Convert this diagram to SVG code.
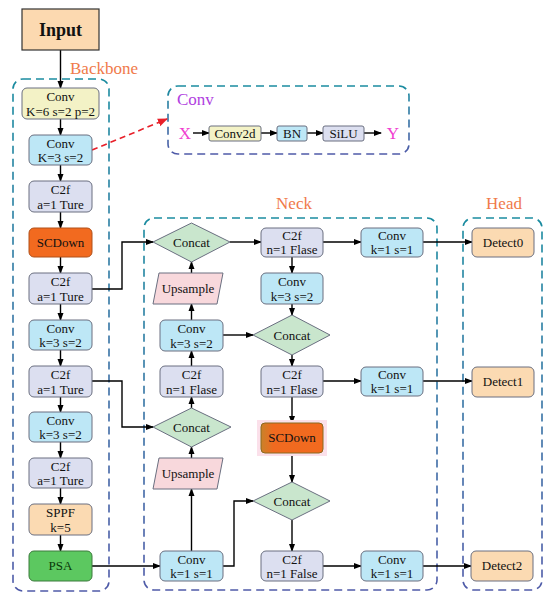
<svg xmlns="http://www.w3.org/2000/svg" width="550" height="598" viewBox="0 0 550 598" font-family="'Liberation Serif', 'DejaVu Serif', serif">
<defs>
<linearGradient id="dash" x1="0" y1="0" x2="0" y2="1">
<stop offset="0" stop-color="#1a8ca0"/><stop offset="1" stop-color="#4f5aa8"/>
</linearGradient>
<linearGradient id="scd" x1="0" y1="0" x2="1" y2="0">
<stop offset="0" stop-color="#c8822a"/><stop offset="0.2" stop-color="#f06a20"/><stop offset="1" stop-color="#f26a1f"/>
</linearGradient>
<marker id="ah" markerWidth="8" markerHeight="8" refX="7" refY="4" orient="auto" markerUnits="userSpaceOnUse">
<path d="M0,1 L8,4 L0,7 Z" fill="#000"/>
</marker>
<marker id="ahr" markerWidth="10" markerHeight="10" refX="9" refY="5" orient="auto" markerUnits="userSpaceOnUse">
<path d="M0,1 L10,5 L0,9 Z" fill="#e8202a"/>
</marker>
</defs>
<style>
text{font-family:'Liberation Serif','DejaVu Serif',serif;font-size:13px;text-anchor:middle;fill:#111}
.grp{fill:none;stroke:url(#dash);stroke-width:1.6;stroke-dasharray:8 5}
.lbl{font-size:17px;fill:#f07a4a}
.b{stroke:#6a6f80;stroke-width:1}
.conv{fill:#bde7f6}
.c2f{fill:#dcdff0}
.yel{fill:#f3f2c6}
.peach{fill:#fbdab2}
.cat{fill:#c9e6cd}
.up{fill:#f8d8dc}
.psa{fill:#5cc860;stroke:#3c7a3c}
.ln{fill:none;stroke:#000;stroke-width:1.4}
.arr{marker-end:url(#ah)}
</style>

<!-- group boxes -->
<rect class="grp" x="13" y="79" width="96" height="512" rx="10"/>
<rect class="grp" x="144" y="218" width="293" height="372" rx="10"/>
<rect class="grp" x="463" y="218" width="79" height="372" rx="10"/>
<rect class="grp" x="168" y="86" width="241" height="68" rx="10"/>
<text class="lbl" x="104" y="74">Backbone</text>
<text class="lbl" x="294" y="209">Neck</text>
<text class="lbl" x="504" y="209">Head</text>

<g id="connectors">
<line class="ln arr" x1="60.5" y1="50" x2="60.5" y2="88"/>
<line class="ln arr" x1="60.5" y1="119" x2="60.5" y2="135"/>
<line class="ln arr" x1="60.5" y1="165" x2="60.5" y2="181"/>
<line class="ln arr" x1="60.5" y1="212" x2="60.5" y2="228"/>
<line class="ln arr" x1="60.5" y1="257" x2="60.5" y2="273"/>
<line class="ln arr" x1="60.5" y1="304" x2="60.5" y2="320"/>
<line class="ln arr" x1="60.5" y1="350" x2="60.5" y2="366"/>
<line class="ln arr" x1="60.5" y1="397" x2="60.5" y2="412"/>
<line class="ln arr" x1="60.5" y1="442" x2="60.5" y2="458"/>
<line class="ln arr" x1="60.5" y1="488" x2="60.5" y2="504"/>
<line class="ln arr" x1="60.5" y1="535" x2="60.5" y2="551"/>
<line x1="92" y1="150" x2="167" y2="119" stroke="#e8202a" stroke-width="1.6" stroke-dasharray="6 4" marker-end="url(#ahr)"/>
<line class="ln arr" x1="193" y1="133" x2="209" y2="133"/>
<line class="ln arr" x1="261" y1="133" x2="277" y2="133"/>
<line class="ln arr" x1="307" y1="133" x2="323" y2="133"/>
<line class="ln arr" x1="364" y1="133" x2="381" y2="133"/>
<polyline class="ln arr" points="92,289 122,289 122,242 153,242"/>
<polyline class="ln arr" points="92,381 122,381 122,427 153,427"/>
<line class="ln arr" x1="92" y1="566" x2="160" y2="566"/>
<line class="ln arr" x1="191.5" y1="551" x2="191.5" y2="489"/>
<line class="ln arr" x1="191.5" y1="458" x2="191.5" y2="447"/>
<line class="ln arr" x1="191.5" y1="408" x2="191.5" y2="397"/>
<line class="ln arr" x1="191.5" y1="366" x2="191.5" y2="351"/>
<line class="ln arr" x1="191.5" y1="320" x2="191.5" y2="304"/>
<line class="ln arr" x1="191.5" y1="273" x2="191.5" y2="262"/>
<line class="ln arr" x1="230" y1="242" x2="261" y2="242"/>
<line class="ln arr" x1="223" y1="335" x2="253" y2="335"/>
<line class="ln arr" x1="292" y1="257" x2="292" y2="273"/>
<line class="ln arr" x1="292" y1="304" x2="292" y2="315"/>
<line class="ln arr" x1="292" y1="355" x2="292" y2="366"/>
<line class="ln arr" x1="292" y1="397" x2="292" y2="423"/>
<line class="ln arr" x1="292" y1="453" x2="292" y2="482"/>
<line class="ln arr" x1="292" y1="520" x2="292" y2="551"/>
<polyline class="ln arr" points="223,566 234,566 234,501 253,501"/>
<line class="ln arr" x1="323" y1="242" x2="361" y2="242"/>
<line class="ln arr" x1="323" y1="381" x2="361" y2="381"/>
<line class="ln arr" x1="323" y1="566" x2="361" y2="566"/>
<line class="ln arr" x1="423" y1="242" x2="472" y2="242"/>
<line class="ln arr" x1="423" y1="381" x2="472" y2="381"/>
<line class="ln arr" x1="423" y1="566" x2="471" y2="566"/>
</g>

<g id="input"><rect x="22" y="9" width="77" height="41" fill="#fcd9b0" stroke="#333" stroke-width="1.2"/><text x="60.5" y="36" style="font-size:18px;font-weight:bold">Input</text></g>

<g id="bb_conv1"><rect class="b yel" x="22" y="88" width="77" height="31" rx="5"/><text x="60.5" y="101">Conv</text><text x="60.5" y="116">K=6 s=2 p=2</text></g>
<g id="bb_conv2"><rect class="b conv" x="29" y="135" width="63" height="30" rx="5"/><text x="60.5" y="148">Conv</text><text x="60.5" y="162">K=3 s=2</text></g>
<g id="bb_c2f1"><rect class="b c2f" x="29" y="181" width="63" height="31" rx="5"/><text x="60.5" y="194">C2f</text><text x="60.5" y="209">a=1 Ture</text></g>
<g id="bb_scdown"><rect x="29" y="228" width="63" height="29" rx="5" fill="#f26a1f" stroke="#b0501a"/><text x="60.5" y="247">SCDown</text></g>
<g id="bb_c2f2"><rect class="b c2f" x="29" y="273" width="63" height="31" rx="5"/><text x="60.5" y="286">C2f</text><text x="60.5" y="301">a=1 Ture</text></g>
<g id="bb_conv3"><rect class="b conv" x="29" y="320" width="63" height="30" rx="5"/><text x="60.5" y="333">Conv</text><text x="60.5" y="347">k=3 s=2</text></g>
<g id="bb_c2f3"><rect class="b c2f" x="29" y="366" width="63" height="31" rx="5"/><text x="60.5" y="379">C2f</text><text x="60.5" y="394">a=1 Ture</text></g>
<g id="bb_conv4"><rect class="b conv" x="29" y="412" width="63" height="30" rx="5"/><text x="60.5" y="425">Conv</text><text x="60.5" y="439">k=3 s=2</text></g>
<g id="bb_c2f4"><rect class="b c2f" x="29" y="458" width="63" height="30" rx="5"/><text x="60.5" y="471">C2f</text><text x="60.5" y="485">a=1 Ture</text></g>
<g id="bb_sppf"><rect class="b peach" x="29" y="504" width="63" height="31" rx="5"/><text x="60.5" y="517">SPPF</text><text x="60.5" y="532">k=5</text></g>
<g id="bb_psa"><rect class="psa" x="29" y="551" width="63" height="30" rx="5"/><text x="60.5" y="570" style="fill:#0a3a0a">PSA</text></g>

<g id="conv_detail">
<text x="177" y="105" style="font-size:17px;fill:#b040e0;text-anchor:start">Conv</text>
<text x="185" y="139" style="font-size:17px;fill:#f040d0">X</text>
<rect class="b yel" x="209" y="126" width="52" height="15" rx="2"/><text x="235" y="138">Conv2d</text>
<rect class="b conv" x="277" y="126" width="30" height="15" rx="2"/><text x="292" y="138">BN</text>
<rect class="b c2f" x="323" y="126" width="41" height="15" rx="2"/><text x="343.5" y="138">SiLU</text>
<text x="393" y="139" style="font-size:17px;fill:#f040d0">Y</text>
</g>

<g id="n_concat1"><polygon class="b cat" points="153,242 191.5,223 230,242 191.5,262"/><text x="191.5" y="247">Concat</text></g>
<g id="n_up1"><polygon class="b up" points="159,273 223,273 217,304 153,304"/><text x="188" y="293">Upsample</text></g>
<g id="n_conv_l"><rect class="b conv" x="160" y="320" width="63" height="31" rx="5"/><text x="191.5" y="333">Conv</text><text x="191.5" y="348">k=3 s=2</text></g>
<g id="n_c2f_l"><rect class="b c2f" x="160" y="366" width="63" height="31" rx="5"/><text x="191.5" y="379">C2f</text><text x="191.5" y="394">n=1 Flase</text></g>
<g id="n_concat2"><polygon class="b cat" points="153,427 191.5,408 231,427 191.5,447"/><text x="191.5" y="432">Concat</text></g>
<g id="n_up2"><polygon class="b up" points="159,458 223,458 217,489 153,489"/><text x="188" y="478">Upsample</text></g>
<g id="n_conv_b"><rect class="b conv" x="160" y="551" width="63" height="30" rx="5"/><text x="191.5" y="564">Conv</text><text x="191.5" y="578">k=1 s=1</text></g>

<g id="n_c2f_r1"><rect class="b c2f" x="261" y="228" width="62" height="29" rx="5"/><text x="292" y="240">C2f</text><text x="292" y="254">n=1 Flase</text></g>
<g id="n_conv_r"><rect class="b conv" x="261" y="273" width="62" height="31" rx="5"/><text x="292" y="286">Conv</text><text x="292" y="301">k=3 s=2</text></g>
<g id="n_concat3"><polygon class="b cat" points="253,335 292,315 330,335 292,355"/><text x="292" y="340">Concat</text></g>
<g id="n_c2f_r2"><rect class="b c2f" x="261" y="366" width="62" height="31" rx="5"/><text x="292" y="379">C2f</text><text x="292" y="394">n=1 Flase</text></g>
<g id="n_scdown"><rect x="257" y="420" width="70" height="36" fill="#fbe0ea"/><rect x="261" y="423" width="62" height="30" rx="4" fill="url(#scd)" stroke="#8a6a20"/><text x="292" y="442">SCDown</text></g>
<g id="n_concat4"><polygon class="b cat" points="253,501 292,482 330,501 292,520"/><text x="292" y="506">Concat</text></g>
<g id="n_c2f_r3"><rect class="b c2f" x="261" y="551" width="62" height="30" rx="5"/><text x="292" y="564">C2f</text><text x="292" y="578">n=1 False</text></g>

<g id="n_conv_o1"><rect class="b conv" x="361" y="228" width="62" height="29" rx="5"/><text x="392" y="240">Conv</text><text x="392" y="254">k=1 s=1</text></g>
<g id="n_conv_o2"><rect class="b conv" x="361" y="367" width="62" height="29" rx="5"/><text x="392" y="379">Conv</text><text x="392" y="393">k=1 s=1</text></g>
<g id="n_conv_o3"><rect class="b conv" x="361" y="551" width="62" height="30" rx="5"/><text x="392" y="564">Conv</text><text x="392" y="578">k=1 s=1</text></g>

<g id="h_det0"><rect class="b peach" x="472" y="228" width="62" height="29" rx="5"/><text x="503" y="247">Detect0</text></g>
<g id="h_det1"><rect class="b peach" x="472" y="367" width="62" height="30" rx="5"/><text x="503" y="386">Detect1</text></g>
<g id="h_det2"><rect class="b peach" x="471" y="551" width="62" height="30" rx="5"/><text x="502" y="570">Detect2</text></g>
</svg>
